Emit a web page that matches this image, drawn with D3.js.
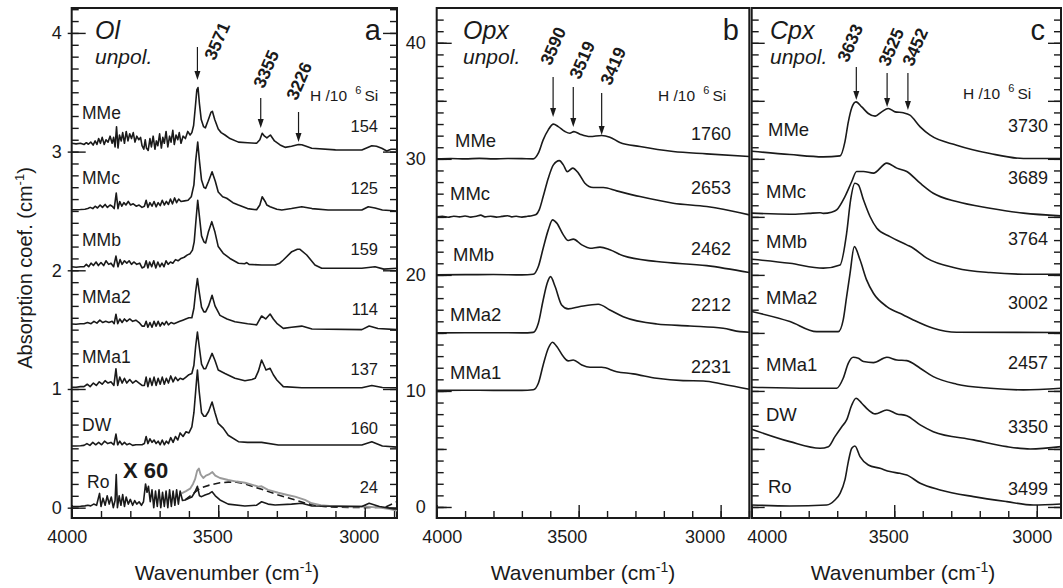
<!DOCTYPE html>
<html><head><meta charset="utf-8">
<script src="https://cdn.jsdelivr.net/npm/d3@7"></script>
<style>
body{margin:0;background:#fff;}
svg{display:block;font-family:"Liberation Sans",Arial,Helvetica,sans-serif;}
</style></head><body>
<svg id="chart" width="1063" height="588"></svg>
<script>
// ---------------- DATA ----------------
const samplesOl = ["MMe","MMc","MMb","MMa2","MMa1","DW","Ro"];
const hOl = [154,125,159,114,137,160,24];
const offsetsOl = [3,2.5,2,1.5,1,0.5,0];
const samplesOpx = ["MMe","MMc","MMb","MMa2","MMa1"];
const hOpx = [1760,2653,2462,2212,2231];
const offsetsOpx = [30,25,20,15,10];
const samplesCpx = ["MMe","MMc","MMb","MMa2","MMa1","DW","Ro"];
const hCpx = [3730,3689,3764,3002,2457,3350,3499];
const offsetsCpx = [30,25,20,15,10,5,0];
const peaksOl = [3571,3355,3226];
const peaksOpx = [3590,3519,3419];
const peaksCpx = [3633,3525,3452];
const xTickLabels = [4000,3500,3000];
const yTickLabelsOl = [0,1,2,3,4];
const yTickLabelsOpx = [0,10,20,30,40];

// Olivine spectra [wavenumber, absorbance above offset]
const olMMe = [[4000,0.07],[3985,0.065],[3970,0.07],[3958,0.06],[3950,0.075],[3943,0.062],[3935,0.08],[3927,0.055],[3920,0.09],[3914,0.06],[3908,0.11],[3902,0.07],[3896,0.12],[3889,0.06],[3883,0.1],[3876,0.08],[3869,0.13],[3862,0.07],[3857,0.12],[3852,0.04],[3847,0.21],[3842,0.03],[3837,0.14],[3831,0.09],[3826,0.16],[3820,0.07],[3814,0.17],[3808,0.09],[3802,0.15],[3796,0.11],[3790,0.16],[3784,0.08],[3778,0.13],[3771,0.1],[3765,0.12],[3760,0.05],[3754,0.02],[3749,0.1],[3745,0.03],[3739,0.01],[3733,0.11],[3728,0.04],[3722,0.13],[3716,0.02],[3711,0.09],[3706,0.05],[3700,0.15],[3694,0.03],[3689,0.12],[3684,0.07],[3678,0.17],[3672,0.04],[3666,0.13],[3661,0.08],[3655,0.18],[3650,0.06],[3644,0.14],[3638,0.1],[3633,0.16],[3627,0.07],[3620,0.13],[3612,0.11],[3604,0.17],[3596,0.14],[3590,0.16],[3584,0.22],[3578,0.38],[3573,0.52],[3569,0.54],[3564,0.4],[3558,0.27],[3550,0.21],[3544,0.2],[3535,0.26],[3525,0.33],[3520,0.34],[3512,0.27],[3500,0.19],[3490,0.16],[3477,0.14],[3460,0.11],[3431,0.08],[3400,0.075],[3369,0.07],[3358,0.1],[3350,0.155],[3342,0.13],[3334,0.115],[3322,0.14],[3308,0.09],[3289,0.056],[3272,0.036],[3250,0.045],[3226,0.06],[3215,0.058],[3200,0.045],[3181,0.028],[3100,0.015],[3010,0.013],[2990,0.035],[2976,0.05],[2960,0.045],[2942,0.028],[2925,0.005],[2910,0.02],[2897,0.02],[2890,0.015]];
const olMMc = [[4000,0.01],[3985,0.01],[3970,0.012],[3955,0.015],[3945,0.02],[3937,0.03],[3928,0.02],[3920,0.04],[3912,0.025],[3903,0.05],[3895,0.03],[3886,0.055],[3878,0.03],[3869,0.05],[3862,0.04],[3855,0.02],[3848,0.15],[3842,0.02],[3836,0.08],[3829,0.04],[3822,0.07],[3815,0.05],[3807,0.08],[3799,0.05],[3790,0.06],[3780,0.04],[3770,0.05],[3760,0.03],[3752,0.04],[3746,0.09],[3740,0.03],[3733,0.07],[3726,0.04],[3719,0.08],[3712,0.035],[3705,0.07],[3698,0.045],[3691,0.09],[3684,0.05],[3677,0.08],[3670,0.055],[3663,0.1],[3656,0.06],[3649,0.11],[3642,0.07],[3635,0.1],[3627,0.08],[3615,0.085],[3603,0.09],[3592,0.12],[3583,0.22],[3577,0.42],[3570,0.58],[3564,0.42],[3557,0.26],[3549,0.2],[3543,0.19],[3533,0.25],[3521,0.33],[3510,0.25],[3500,0.16],[3485,0.12],[3471,0.107],[3450,0.07],[3431,0.05],[3400,0.02],[3369,0.01],[3358,0.05],[3350,0.12],[3340,0.08],[3334,0.05],[3323,0.036],[3300,0.015],[3283,0.008],[3250,0.02],[3215,0.036],[3180,0.02],[3125,0.008],[3010,0.008],[2988,0.036],[2965,0.025],[2940,0.008],[2890,0.0]];
const olMMb = [[4000,0.03],[3985,0.025],[3970,0.03],[3958,0.03],[3950,0.05],[3942,0.03],[3934,0.06],[3926,0.04],[3917,0.07],[3909,0.04],[3900,0.065],[3891,0.04],[3883,0.08],[3874,0.05],[3866,0.06],[3857,0.03],[3849,0.12],[3842,0.03],[3835,0.09],[3828,0.05],[3820,0.08],[3812,0.06],[3804,0.08],[3796,0.05],[3788,0.07],[3778,0.05],[3768,0.06],[3760,0.02],[3752,0.03],[3746,0.08],[3740,0.02],[3734,0.07],[3727,0.03],[3720,0.08],[3713,0.02],[3706,0.07],[3699,0.03],[3692,0.06],[3685,0.03],[3678,0.08],[3671,0.05],[3663,0.07],[3655,0.06],[3646,0.09],[3637,0.08],[3627,0.1],[3616,0.11],[3605,0.13],[3596,0.14],[3588,0.17],[3582,0.24],[3576,0.42],[3570,0.59],[3564,0.45],[3557,0.29],[3549,0.24],[3543,0.23],[3534,0.32],[3522,0.41],[3511,0.32],[3500,0.2],[3483,0.143],[3460,0.1],[3431,0.059],[3410,0.055],[3403,0.065],[3395,0.05],[3352,0.045],[3306,0.045],[3290,0.06],[3278,0.087],[3249,0.157],[3230,0.177],[3221,0.177],[3198,0.129],[3170,0.045],[3147,0.017],[3010,0.017],[2965,0.03],[2935,0.01],[2890,0.017]];
const olMMa2 = [[4000,0.047],[3985,0.045],[3970,0.05],[3958,0.05],[3946,0.06],[3934,0.05],[3924,0.07],[3914,0.055],[3904,0.08],[3894,0.06],[3884,0.07],[3873,0.06],[3862,0.07],[3855,0.05],[3849,0.13],[3843,0.05],[3836,0.09],[3828,0.06],[3820,0.09],[3812,0.07],[3802,0.09],[3792,0.07],[3781,0.08],[3770,0.06],[3760,0.03],[3752,0.03],[3746,0.07],[3740,0.02],[3733,0.06],[3726,0.02],[3719,0.07],[3712,0.03],[3705,0.07],[3698,0.03],[3691,0.06],[3684,0.04],[3677,0.07],[3670,0.04],[3661,0.06],[3651,0.05],[3641,0.06],[3631,0.07],[3621,0.08],[3611,0.09],[3600,0.1],[3590,0.1],[3583,0.18],[3577,0.32],[3571,0.43],[3565,0.32],[3557,0.19],[3549,0.15],[3543,0.15],[3533,0.2],[3521,0.29],[3511,0.2],[3494,0.12],[3470,0.09],[3443,0.067],[3400,0.05],[3369,0.04],[3360,0.08],[3352,0.115],[3338,0.09],[3323,0.132],[3312,0.09],[3300,0.053],[3278,0.011],[3250,0.02],[3215,0.03],[3180,0.005],[3010,0.0],[2985,0.03],[2955,0.01],[2890,0.0]];
const olMMa1 = [[4000,0.014],[3985,0.015],[3970,0.02],[3958,0.02],[3947,0.04],[3937,0.02],[3926,0.05],[3916,0.03],[3906,0.06],[3896,0.04],[3886,0.07],[3876,0.05],[3866,0.06],[3856,0.03],[3849,0.17],[3843,0.03],[3836,0.1],[3828,0.05],[3820,0.09],[3812,0.05],[3802,0.08],[3792,0.05],[3781,0.07],[3770,0.05],[3760,0.03],[3752,0.03],[3746,0.1],[3740,0.02],[3733,0.09],[3726,0.03],[3719,0.1],[3712,0.03],[3705,0.09],[3698,0.04],[3691,0.1],[3684,0.04],[3677,0.09],[3670,0.05],[3662,0.11],[3654,0.06],[3646,0.1],[3638,0.07],[3630,0.09],[3620,0.08],[3610,0.1],[3600,0.12],[3590,0.13],[3583,0.2],[3577,0.36],[3571,0.48],[3565,0.36],[3557,0.21],[3549,0.17],[3543,0.17],[3533,0.23],[3521,0.3],[3511,0.24],[3500,0.16],[3477,0.13],[3443,0.09],[3409,0.07],[3385,0.08],[3374,0.09],[3363,0.15],[3352,0.244],[3344,0.2],[3337,0.16],[3323,0.174],[3312,0.12],[3300,0.076],[3278,0.02],[3215,0.01],[3010,0.01],[2976,0.03],[2940,0.012],[2890,0.01]];
const olDW = [[4000,0.02],[3985,0.02],[3970,0.022],[3958,0.025],[3948,0.04],[3938,0.025],[3928,0.05],[3918,0.03],[3908,0.05],[3898,0.03],[3888,0.06],[3877,0.04],[3866,0.05],[3856,0.03],[3849,0.12],[3843,0.03],[3836,0.06],[3828,0.03],[3820,0.05],[3812,0.03],[3802,0.04],[3792,0.025],[3781,0.03],[3770,0.03],[3760,0.03],[3752,0.04],[3746,0.1],[3740,0.04],[3733,0.08],[3726,0.05],[3719,0.07],[3712,0.04],[3705,0.06],[3698,0.03],[3691,0.07],[3684,0.03],[3677,0.06],[3670,0.04],[3662,0.09],[3654,0.05],[3646,0.1],[3638,0.07],[3630,0.13],[3620,0.1],[3610,0.14],[3600,0.13],[3590,0.18],[3583,0.3],[3577,0.48],[3571,0.66],[3565,0.48],[3557,0.3],[3549,0.27],[3543,0.27],[3533,0.31],[3521,0.39],[3511,0.3],[3500,0.21],[3483,0.17],[3466,0.11],[3431,0.056],[3400,0.05],[3352,0.05],[3295,0.028],[3100,0.028],[3010,0.028],[2976,0.056],[2940,0.02],[2890,0.01]];
const olRo = [[4000,0.01],[3985,0.01],[3970,0.012],[3955,0.015],[3945,0.02],[3935,0.015],[3925,0.03],[3915,0.02],[3905,0.12],[3900,0.01],[3893,0.08],[3886,0.02],[3879,0.1],[3872,0.03],[3865,0.09],[3858,0.0],[3852,0.06],[3848,0.28],[3844,0.0],[3838,0.1],[3832,0.02],[3826,0.11],[3820,0.01],[3814,0.09],[3807,0.03],[3800,0.07],[3792,0.02],[3785,0.06],[3778,0.03],[3770,0.05],[3762,0.02],[3755,0.05],[3748,0.2],[3743,0.13],[3738,0.18],[3732,0.05],[3726,0.15],[3720,0.0],[3714,0.14],[3708,0.01],[3702,0.15],[3696,0.0],[3690,0.13],[3684,0.01],[3678,0.14],[3672,0.0],[3666,0.15],[3660,0.01],[3654,0.14],[3648,0.02],[3642,0.15],[3636,0.03],[3630,0.14],[3622,0.06],[3613,0.065],[3600,0.08],[3590,0.09],[3580,0.13],[3571,0.18],[3564,0.1],[3557,0.093],[3545,0.107],[3530,0.12],[3521,0.135],[3510,0.1],[3494,0.065],[3466,0.03],[3409,0.014],[3370,0.02],[3352,0.05],[3330,0.03],[3306,0.023],[3250,0.03],[3215,0.037],[3180,0.014],[3010,0.01],[2985,0.037],[2950,0.01],[2900,-0.01],[2890,-0.01]];
const olRoRaw = [[3625,0.12],[3610,0.14],[3596,0.16],[3586,0.2],[3579,0.24],[3572,0.31],[3566,0.33],[3560,0.28],[3551,0.25],[3542,0.27],[3532,0.28],[3520,0.3],[3510,0.27],[3494,0.25],[3466,0.233],[3437,0.22],[3409,0.21],[3380,0.19],[3363,0.177],[3352,0.18],[3330,0.15],[3295,0.126],[3260,0.105],[3238,0.093],[3204,0.065],[3181,0.037],[3150,0.02],[3120,0.014],[3050,0.01],[3000,0.01],[2950,0.0],[2920,-0.01],[2890,-0.025]];
const olRoBase = [[3613,0.065],[3590,0.11],[3562,0.165],[3530,0.19],[3494,0.21],[3466,0.215],[3437,0.215],[3409,0.2],[3352,0.155],[3295,0.107],[3238,0.065],[3204,0.04],[3170,0.02],[3140,0.01],[3100,0.005],[3000,0.0],[2930,0.005],[2890,0.05]];
const olSpectra = [olMMe,olMMc,olMMb,olMMa2,olMMa1,olDW,olRo];

// Orthopyroxene spectra
const opxMMe = [[4000,0],[3950,0.03],[3900,0.0],[3850,0.04],[3800,0],[3750,0.03],[3700,0.02],[3660,0],[3642,0.49],[3625,1.64],[3607,2.5],[3589,2.99],[3572,2.78],[3548,2.35],[3531,2.21],[3517,2.35],[3495,2.13],[3460,1.92],[3419,2.01],[3390,1.87],[3355,1.41],[3284,1.06],[3167,0.63],[3049,0.43],[2899,0.2]];
const opxMMc = [[4000,0],[3980,0.05],[3960,-0.03],[3940,0.06],[3920,0.0],[3900,0.08],[3880,-0.02],[3860,0.05],[3845,0.15],[3830,0.0],[3810,0.06],[3790,-0.02],[3770,0.04],[3750,0.1],[3735,0.0],[3720,0.05],[3700,-0.02],[3680,0.05],[3665,0.1],[3650,0.2],[3639,0.6],[3625,1.75],[3607,3.33],[3589,4.48],[3568,4.85],[3554,4.48],[3540,3.9],[3521,4.2],[3501,3.77],[3478,2.9],[3449,2.53],[3413,2.53],[3366,2.24],[3284,1.75],[3167,1.18],[3049,0.89],[2991,0.66],[2899,0.17]];
const opxMMb = [[4000,0],[3900,0.02],[3800,0.03],[3700,0],[3660,0.05],[3642,0.72],[3625,2.3],[3607,3.88],[3592,4.74],[3577,4.46],[3554,3.45],[3537,2.96],[3519,3.08],[3489,2.59],[3460,2.3],[3425,2.39],[3390,2.16],[3343,1.64],[3225,1.15],[3049,0.8],[2899,0.2]];
const opxMMa2 = [[4000,0],[3900,0.02],[3800,0.02],[3700,0],[3660,0.05],[3642,0.83],[3625,2.84],[3611,4.28],[3599,4.85],[3583,4.0],[3560,2.41],[3537,2.07],[3495,2.27],[3431,2.47],[3390,1.98],[3343,1.4],[3225,0.77],[3108,0.6],[2991,0.4],[2932,0.11],[2899,0.06]];
const opxMMa1 = [[4000,0.05],[3900,0.06],[3800,0.05],[3700,0.05],[3660,0.1],[3642,0.66],[3625,2.24],[3607,3.68],[3592,4.2],[3577,3.82],[3554,2.96],[3537,2.59],[3519,2.67],[3489,2.24],[3460,2.04],[3419,2.04],[3366,1.66],[3308,1.47],[3225,1.09],[3132,0.89],[3061,0.86],[2991,0.58],[2899,0.15]];
const opxSpectra = [opxMMe,opxMMc,opxMMb,opxMMa2,opxMMa1];

// Clinopyroxene spectra
const cpxMMe = [[4000,0.66],[3866,0.37],[3749,0.17],[3690,0.26],[3673,1.47],[3661,3.19],[3649,4.4],[3634,4.91],[3614,4.48],[3591,3.91],[3567,3.68],[3544,4.05],[3521,4.34],[3497,4.05],[3468,3.97],[3445,3.77],[3409,2.76],[3374,2.04],[3281,1.18],[3164,0.46],[3047,0.03],[2915,0.03]];
const cpxMMc = [[4000,0.32],[3866,0.23],[3800,0.3],[3760,0.35],[3749,0.3],[3720,0.4],[3702,0.6],[3673,1.75],[3649,3.05],[3632,3.91],[3608,3.91],[3573,3.77],[3526,4.63],[3491,4.2],[3456,3.91],[3409,2.9],[3363,2.04],[3281,1.32],[3164,0.75],[3047,0.32],[2915,0.09]];
const cpxMMb = [[4000,1.35],[3866,1.0],[3749,0.58],[3690,0.86],[3667,3.59],[3653,6.47],[3638,7.9],[3626,7.76],[3608,6.47],[3585,5.03],[3561,4.02],[3515,3.3],[3456,2.59],[3433,2.3],[3386,1.44],[3281,0.58],[3164,0.2],[3047,0.06],[2915,0.06]];
const cpxMMa2 = [[4000,1.84],[3866,0.98],[3772,0.11],[3696,0.11],[3679,1.12],[3667,3.13],[3655,5.14],[3640,7.44],[3620,6.3],[3597,4.57],[3573,3.42],[3526,2.27],[3468,1.55],[3433,1.12],[3363,0.4],[3281,0.06],[2915,0.03]];
const cpxMMa1 = [[4000,0.32],[3800,0.23],[3702,0.23],[3679,1.09],[3661,2.39],[3644,2.9],[3626,2.82],[3608,2.53],[3573,2.44],[3526,2.9],[3491,2.67],[3456,2.61],[3409,1.96],[3363,1.23],[3281,0.58],[3164,0.23],[3047,0.09],[2915,0.23]];
const cpxDW = [[4000,1.7],[3866,0.63],[3760,0.06],[3731,0.2],[3708,1.06],[3684,1.92],[3667,2.5],[3649,3.79],[3634,4.37],[3614,3.94],[3591,3.36],[3567,3.02],[3526,3.36],[3491,3.02],[3456,2.87],[3409,2.07],[3363,1.49],[3222,0.78],[3105,0.2],[3023,0.0],[2915,0.2]];
const cpxRo = [[4000,0.17],[3866,0.09],[3737,0.17],[3708,0.6],[3690,1.18],[3673,2.33],[3661,3.91],[3649,5.06],[3638,5.26],[3620,4.34],[3591,3.62],[3550,3.33],[3515,3.05],[3480,2.9],[3456,2.76],[3409,2.04],[3339,1.47],[3222,0.89],[3105,0.46],[3012,0.17],[2915,0.26]];
const cpxSpectra = [cpxMMe,cpxMMc,cpxMMb,cpxMMa2,cpxMMa1,cpxDW,cpxRo];

// ---------------- LAYOUT ----------------
const svg = d3.select("#chart");
const INK = "#1a1a1a";

const panels = [
  {key:"a", left:71.7, right:397, top:8, bottom:518, wEnd:2890, yLo:-0.087, yHi:4.21,
   title:"Ol", letter:"a", letterX:381, titleX:95, curve:d3.curveLinear,
   samples:samplesOl, h:hOl, offsets:offsetsOl, spectra:olSpectra, peaks:peaksOl,
   labelX:[82,82,82,82,82,82,87], labelY:[113,178,240,297,357,425,482], labelFs:17.5,
   numX:378, numY:[126,188,249,309,369,428,487], numFs:16.5,
   hX:310, hY:101,
   arrows:[[47,80],[98,128],[112,142]], peakText:[[217,41],[266,69],[299,81]],
   tickDx:[-5,-6,-6], titleCx:227},
  {key:"b", left:436.7, right:749.3, top:8, bottom:518, wEnd:2899, yLo:-0.95, yHi:43.0,
   title:"Opx", letter:"b", letterX:739, titleX:463, curve:d3.curveMonotoneX,
   samples:samplesOpx, h:hOpx, offsets:offsetsOpx, spectra:opxSpectra, peaks:peaksOpx,
   labelX:[455,450,453,450,450], labelY:[141,194,255,315,373], labelFs:18.5,
   numX:731, numY:[134,188,249,305,367], numFs:18,
   hX:658, hY:101,
   arrows:[[77,117],[87,127],[93,135]], peakText:[[553,46],[582,60],[613,66]],
   tickDx:[5,-12,-16], titleCx:583},
  {key:"c", left:751.7, right:1061, top:8, bottom:518, wEnd:2915, yLo:-0.95, yHi:43.0,
   title:"Cpx", letter:"c", letterX:1045, titleX:770, curve:d3.curveMonotoneX,
   samples:samplesCpx, h:hCpx, offsets:offsetsCpx, spectra:cpxSpectra, peaks:peaksCpx,
   labelX:[768,766,766,766,766,766,768], labelY:[130,192,242,298,365,415,487], labelFs:18.5,
   numX:1048, numY:[126,178,239,303,363,427,489], numFs:18,
   hX:963, hY:99,
   arrows:[[67,100],[73,107],[73,110]], peakText:[[850,43],[891,47],[915,47]],
   tickDx:[15,-6,-5], titleCx:903}
];

panels.forEach(p => {
  p.x = d3.scaleLinear().domain([4000, p.wEnd]).range([p.left, p.right]);
  p.y = d3.scaleLinear().domain([p.yLo, p.yHi]).range([p.bottom, p.top]);
});

const defs = svg.append("defs");
panels.forEach(p => {
  defs.append("clipPath").attr("id","clip-"+p.key)
    .append("rect").attr("x",p.left).attr("y",p.top)
    .attr("width",p.right-p.left).attr("height",p.bottom-p.top);
});

function styleAxis(g){
  g.select(".domain").remove();
  g.selectAll(".tick line").attr("stroke",INK).attr("stroke-width",1.4);
  g.selectAll(".tick text").attr("fill",INK).style("font-size","18px");
}

panels.forEach(p => {
  const g = svg.append("g");
  const xMinor = d3.range(4000, p.wEnd, -100);
  g.append("g").attr("transform",`translate(0,${p.bottom})`)
    .call(d3.axisBottom(p.x).tickValues(xMinor).tickSize(-7).tickFormat(""))
    .call(styleAxis);
  const xMaj = g.append("g").attr("transform",`translate(0,${p.bottom})`)
    .call(d3.axisBottom(p.x).tickValues(xTickLabels).tickSize(-13).tickPadding(12).tickFormat(d3.format("d")))
    .call(styleAxis);
  xMaj.selectAll(".tick text").attr("dx",(d,i)=>p.tickDx[i]);

  if (p.key === "a") {
    const minor = d3.range(0, 4.21, 0.1).map(v=>+v.toFixed(2));
    [[d3.axisLeft,p.left],[d3.axisRight,p.right]].forEach(([ax,x0])=>{
      g.append("g").attr("transform",`translate(${x0},0)`)
        .call(ax(p.y).tickValues(minor).tickSize(-7).tickFormat("")).call(styleAxis);
      g.append("g").attr("transform",`translate(${x0},0)`)
        .call(ax(p.y).tickValues(yTickLabelsOl).tickSize(-14).tickFormat("")).call(styleAxis);
    });
    g.append("g").attr("transform",`translate(${p.left},0)`)
      .call(d3.axisLeft(p.y).tickValues(yTickLabelsOl).tickSize(4).tickPadding(6).tickFormat(d3.format("d")))
      .call(styleAxis);
  } else {
    const minor = d3.range(0, 43, 1);
    const five = d3.range(0, 43, 5);
    if (p.key === "b") {
      g.append("g").attr("transform",`translate(${p.left},0)`)
        .call(d3.axisLeft(p.y).tickValues(minor).tickSize(-7).tickFormat("")).call(styleAxis);
      g.append("g").attr("transform",`translate(${p.left},0)`)
        .call(d3.axisLeft(p.y).tickValues(five).tickSize(-10).tickFormat("")).call(styleAxis);
      g.append("g").attr("transform",`translate(${p.left},0)`)
        .call(d3.axisLeft(p.y).tickValues(yTickLabelsOpx).tickSize(-15).tickPadding(11).tickFormat(d3.format("d")))
        .call(styleAxis);
    } else {
      [[d3.axisLeft,p.left],[d3.axisRight,p.right]].forEach(([ax,x0])=>{
        g.append("g").attr("transform",`translate(${x0},0)`)
          .call(ax(p.y).tickValues(minor).tickSize(-7).tickFormat("")).call(styleAxis);
        g.append("g").attr("transform",`translate(${x0},0)`)
          .call(ax(p.y).tickValues(five).tickSize(-13).tickFormat("")).call(styleAxis);
      });
    }
  }

  g.append("rect").attr("x",p.left).attr("y",p.top)
    .attr("width",p.right-p.left).attr("height",p.bottom-p.top)
    .attr("fill","none").attr("stroke",INK).attr("stroke-width",2);

  const sg = g.append("g").attr("clip-path",`url(#clip-${p.key})`);
  const mkLine = off => d3.line().x(d=>p.x(d[0])).y(d=>p.y(d[1]+off)).curve(p.curve);
  if (p.key === "a") {
    sg.append("path").attr("d",mkLine(0)(olRoBase)).attr("fill","none")
      .attr("stroke",INK).attr("stroke-width",1.6).attr("stroke-dasharray","7,4");
    sg.append("path").attr("d",mkLine(0)(olRoRaw)).attr("fill","none")
      .attr("stroke","#9a9a9a").attr("stroke-width",1.9).attr("stroke-linejoin","round");
  }
  p.spectra.forEach((s,i)=>{
    sg.append("path").attr("d",mkLine(p.offsets[i])(s)).attr("fill","none")
      .attr("stroke",INK).attr("stroke-width",1.6).attr("stroke-linejoin","round");
  });

  p.samples.forEach((name,i)=>{
    g.append("text").attr("x",p.labelX[i]).attr("y",p.labelY[i]).attr("dy","0.35em")
      .attr("fill",INK).style("font-size",p.labelFs+"px").text(name);
    g.append("text").attr("x",p.numX).attr("y",p.numY[i]).attr("dy","0.35em")
      .attr("text-anchor","end").attr("fill",INK).style("font-size",p.numFs+"px").text(p.h[i]);
  });

  const ht = g.append("text").attr("x",p.hX).attr("y",p.hY).attr("fill",INK).style("font-size","15.5px");
  ht.append("tspan").text("H /10 ");
  ht.append("tspan").attr("dy",-7).attr("dx",4).style("font-size","11px").text("6");
  ht.append("tspan").attr("dy",7).attr("dx",3).text("Si");

  g.append("text").attr("x",p.titleX).attr("y",38.5).attr("fill",INK)
    .style("font-size","25px").style("font-style","italic").text(p.title);
  g.append("text").attr("x",p.titleX).attr("y",64).attr("fill",INK)
    .style("font-size","21px").style("font-style","italic").text("unpol.");
  g.append("text").attr("x",p.letterX).attr("y",40).attr("text-anchor","end").attr("fill",INK)
    .style("font-size","29px").text(p.letter);

  p.peaks.forEach((w,i)=>{
    const xx = p.x(w), [y1,y2] = p.arrows[i];
    g.append("line").attr("x1",xx).attr("x2",xx).attr("y1",y1).attr("y2",y2-6)
      .attr("stroke",INK).attr("stroke-width",1.2);
    g.append("path").attr("d",`M${xx-3},${y2-9}L${xx+3},${y2-9}L${xx},${y2}Z`).attr("fill",INK);
    const [tx,ty] = p.peakText[i];
    g.append("text").attr("transform",`translate(${tx},${ty}) rotate(-66)`)
      .attr("text-anchor","middle").attr("dy","0.35em").attr("fill",INK)
      .style("font-size","17.5px").style("font-weight","bold").text(w);
  });

  const xt = g.append("text").attr("x",p.titleCx).attr("y",580).attr("text-anchor","middle")
    .attr("fill",INK).style("font-size","21px");
  xt.append("tspan").text("Wavenumber (cm");
  xt.append("tspan").attr("dy",-8).style("font-size","14px").text("-1");
  xt.append("tspan").attr("dy",8).text(")");
});

svg.append("text").attr("x",123).attr("y",478).attr("fill",INK)
  .style("font-size","22px").style("font-weight","bold").text("X 60");

const yt = svg.append("text").attr("transform","translate(32,268) rotate(-90)")
  .attr("text-anchor","middle").attr("fill",INK).style("font-size","20px");
yt.append("tspan").text("Absorption coef. (cm");
yt.append("tspan").attr("dy",-8).style("font-size","13px").text("-1");
yt.append("tspan").attr("dy",8).text(")");
</script></body></html>
